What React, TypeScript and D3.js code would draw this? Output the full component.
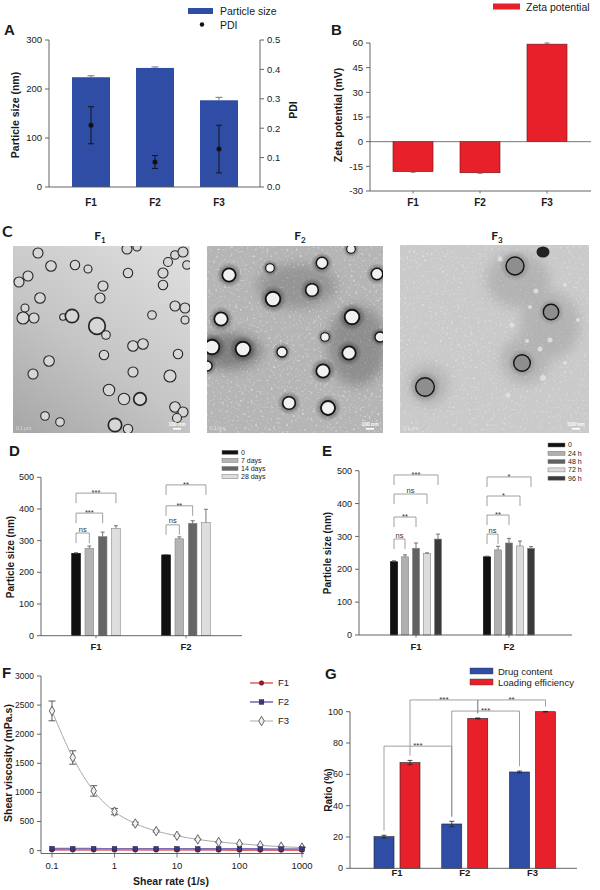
import * as d3 from "d3"

const FONT = "'Liberation Sans', Arial, Helvetica, sans-serif"
const CAL = "Lato, 'Open Sans', sans-serif"
const INK = "#1a1a1a"
const AXIS = "#555"
const BLUE = "#2f4da5"
const RED = "#e8202a"

// A: particle size + PDI
const formulations = ["F1", "F2", "F3"]
const sizeMean = [224, 243, 177]
const sizeErr = [3, 2, 6]
const pdiMean = [0.21, 0.085, 0.129]
const pdiErr = [0.063, 0.022, 0.081]
const sizeTicks = [0, 100, 200, 300]
const pdiTicks = [0, 0.1, 0.2, 0.3, 0.4, 0.5]

// B: zeta potential
const zetaMean = [-18.2, -18.9, 59.3]
const zetaErr = [0.4, 0.3, 0.7]
const zetaTicks = [-30, -15, 0, 15, 30, 45, 60]

// C: TEM micrographs, particles as [x, y, r] in image pixels
const temSubscripts = ["1", "2", "3"]
const temF1 = [
  [25, 7, 5], [38, 20, 5.3], [62, 19, 4.7], [75, 23, 4], [15, 30, 5], [6, 36, 5], [27, 52, 5.3],
  [90, 40, 5], [87, 52, 5], [114, 3, 5], [124, 1, 4], [115, 27, 4.7], [150, 39, 4.7], [150, 27, 5],
  [155, 16, 4.5], [162, 9, 4.3], [170, 6, 5], [174, 19, 4.3], [12, 62, 4], [10, 72, 6], [21, 72, 5],
  [50, 71, 3.3], [59, 70, 6.7], [84, 80, 8.3], [93, 89, 4.3], [139, 69, 4.3], [162, 60, 5], [172, 62, 5],
  [172, 74, 4], [120, 100, 5.3], [130, 98, 5.3], [91, 109, 4.7], [36, 115, 5.3], [165, 108, 4.7],
  [120, 126, 5], [20, 128, 5], [157, 130, 6], [96, 144, 5.7], [111, 153, 5.7], [127, 153, 6.3],
  [162, 161, 5.3], [170, 166, 5], [164, 172, 4.5], [32, 170, 4.3], [47, 176, 4.3], [102, 179, 6.7],
  [115, 183, 4.7],
]
const temF2 = [
  [22, 29, 6.7], [63, 22, 4.3], [115, 17, 5.7], [144, 3, 4.3], [170, 28, 5.7], [66, 53, 7.3],
  [105, 44, 6.3], [14, 73, 6.7], [145, 71, 7.3], [5, 101, 7.3], [36, 103, 7.3], [75, 106, 5],
  [118, 91, 4.3], [173, 91, 5], [142, 107, 6.7], [0, 120, 5], [116, 125, 6.7], [82, 157, 6.3],
  [121, 162, 7],
]
const temF3 = [[115, 21, 9], [151, 67, 7.7], [122, 118, 8.3], [25, 142, 9.3]]
const temF3Vesicles = [
  [100, 14, 2.5], [136, 46, 2.5], [165, 40, 2], [130, 62, 2], [112, 80, 2.5], [150, 95, 2.5],
  [140, 104, 2.5], [127, 96, 2], [165, 118, 2], [143, 133, 3], [178, 75, 2], [108, 150, 2.5],
]

// D: storage stability
const stabilityGroups = ["F1", "F2"]
const storageSeries = ["0", "7 days", "14 days", "28 days"]
const storageColors = ["#111111", "#b4b4b4", "#666666", "#dedede"]
const storageMean = [[260, 276, 313, 339], [255, 306, 355, 357]]
const storageErr = [[2, 7, 14, 8], [1, 6, 8, 42]]
const storageSig = [
  { g: 0, a: 0, b: 1, y: 324, label: "ns" },
  { g: 0, a: 0, b: 2, y: 387, label: "***" },
  { g: 0, a: 0, b: 3, y: 450, label: "***" },
  { g: 1, a: 0, b: 1, y: 350, label: "ns" },
  { g: 1, a: 0, b: 2, y: 410, label: "**" },
  { g: 1, a: 0, b: 3, y: 476, label: "**" },
]

// E: stability in medium
const mediumSeries = ["0", "24 h", "48 h", "72 h", "96 h"]
const mediumColors = ["#111111", "#b0b0b0", "#616161", "#dcdcdc", "#3a3a3a"]
const mediumMean = [[223, 238, 264, 248, 292], [238, 259, 280, 271, 264]]
const mediumErr = [[3, 6, 16, 2, 15], [2, 11, 14, 15, 5]]
const mediumSig = [
  { g: 0, a: 0, b: 1, y: 292, label: "ns" },
  { g: 0, a: 0, b: 2, y: 359, label: "**" },
  { g: 0, a: 0, b: 3, y: 429, label: "ns" },
  { g: 0, a: 0, b: 4, y: 487, label: "***" },
  { g: 1, a: 0, b: 1, y: 307, label: "ns" },
  { g: 1, a: 0, b: 2, y: 365, label: "**" },
  { g: 1, a: 0, b: 3, y: 423, label: "*" },
  { g: 1, a: 0, b: 4, y: 481, label: "*" },
]
const stabilityTicks = [0, 100, 200, 300, 400, 500]

// F: rheology
const shearRate = [0.1, 0.215, 0.464, 1, 2.15, 4.64, 10, 21.5, 46.4, 100, 215, 464, 1000]
const viscF1 = [12, 11, 11, 10, 10, 10, 9, 9, 9, 8, 8, 8, 7]
const viscF2 = [34, 33, 33, 32, 32, 31, 31, 30, 30, 29, 29, 28, 28]
const viscF3 = [2400, 1600, 1025, 670, 465, 335, 255, 192, 148, 118, 90, 68, 52]
const viscF3Err = [170, 115, 90, 55, 22, 15, 10, 8, 6, 5, 4, 3, 3]
const viscTicks = [0, 500, 1000, 1500, 2000, 2500, 3000]
const shearTicks = [0.1, 1, 10, 100, 1000]

// G: drug content / loading efficiency
const loadSeries = ["Drug content", "Loading efficiency"]
const loadColors = [BLUE, RED]
const drugContent = [20.2, 28.3, 61.5]
const drugContentErr = [0.9, 1.7, 0.6]
const loadingEff = [67.5, 95.7, 100]
const loadingEffErr = [1.4, 0.3, 0.2]
const loadSig = [
  { a: [0, 0], b: [1, 0], y: 78, label: "***" },
  { a: [0, 1], b: [1, 1], y: 107.5, label: "***" },
  { a: [1, 0], b: [2, 0], y: 100.4, label: "***" },
  { a: [1, 1], b: [2, 1], y: 107.5, label: "**" },
]
const ratioTicks = [0, 20, 40, 60, 80, 100]

type Lin = d3.ScaleLinear<number, number>

function YAxis({ scale, ticks, x, right = false, fmt = (d: number) => String(d), fs = 9.5 }: {
  scale: Lin; ticks: number[]; x: number; right?: boolean; fmt?: (d: number) => string; fs?: number
}) {
  const [a, b] = scale.range()
  const s = right ? 1 : -1
  return (
    <g>
      <line x1={x} x2={x} y1={a} y2={b} stroke={AXIS} strokeWidth={0.9} />
      {ticks.map((t) => (
        <g key={t}>
          <line x1={x} x2={x + s * 4} y1={scale(t)} y2={scale(t)} stroke={AXIS} strokeWidth={0.9} />
          <text x={x + s * 7} y={scale(t)} dy="0.35em" textAnchor={right ? "start" : "end"} fontSize={fs} fill={INK}>
            {fmt(t)}
          </text>
        </g>
      ))}
    </g>
  )
}

function ErrBar({ x, y1, y2, cap = 6, color = "#333" }: { x: number; y1: number; y2: number; cap?: number; color?: string }) {
  return (
    <path d={`M${x},${y1}V${y2}M${x - cap / 2},${y2}H${x + cap / 2}`} stroke={color} strokeWidth={0.9} fill="none" />
  )
}

function Bracket({ x1, x2, y, b1, b2, label, fs = 7.5 }: { x1: number; x2: number; y: number; b1: number; b2: number; label: string; fs?: number }) {
  const star = label.includes("*")
  return (
    <g>
      <path d={`M${x1},${b1}V${y}H${x2}V${b2}`} fill="none" stroke="#888" strokeWidth={0.8} />
      <text x={(x1 + x2) / 2} y={star ? y + 2 : y - 1.5} textAnchor="middle" fontSize={fs} fill="#333">{label}</text>
    </g>
  )
}

function VTitle({ x, y, text, fs = 10.5 }: { x: number; y: number; text: string; fs?: number }) {
  return (
    <text transform={`translate(${x},${y}) rotate(-90)`} textAnchor="middle" fontWeight="bold" fontSize={fs} fill={INK}>
      {text}
    </text>
  )
}

function PanelA() {
  const x = d3.scalePoint<string>().domain(formulations).range([91, 219])
  const y = d3.scaleLinear().domain([0, 300]).range([187, 40])
  const yR = d3.scaleLinear().domain([0, 0.5]).range([187, 40])
  const bw = 38
  return (
    <g>
      <text x={4} y={35} fontSize={15} fontWeight="bold" fill={INK}>A</text>
      <rect x={188} y={8} width={25} height={6} fill={BLUE} />
      <text x={220} y={15} fontSize={10.5} fill={INK}>Particle size</text>
      <circle cx={202} cy={24.5} r={2.2} fill="#111" />
      <text x={220} y={28.5} fontSize={10.5} fill={INK}>PDI</text>
      {formulations.map((f, i) => (
        <g key={f}>
          <rect x={x(f)! - bw / 2} y={y(sizeMean[i])} width={bw} height={y(0) - y(sizeMean[i])} fill={BLUE} />
          <ErrBar x={x(f)!} y1={y(sizeMean[i])} y2={y(sizeMean[i] + sizeErr[i])} cap={7} color="#667" />
        </g>
      ))}
      {formulations.map((f, i) => (
        <g key={f + "p"}>
          <path
            d={`M${x(f)},${yR(pdiMean[i] - pdiErr[i])}V${yR(pdiMean[i] + pdiErr[i])}M${x(f)! - 3},${yR(pdiMean[i] - pdiErr[i])}h6M${x(f)! - 3},${yR(pdiMean[i] + pdiErr[i])}h6`}
            stroke="#111" strokeWidth={0.9} fill="none"
          />
          <circle cx={x(f)} cy={yR(pdiMean[i])} r={2.5} fill="#111" />
        </g>
      ))}
      <line x1={49} x2={260} y1={187} y2={187} stroke={AXIS} strokeWidth={0.9} />
      <YAxis scale={y} ticks={sizeTicks} x={49} />
      <YAxis scale={yR} ticks={pdiTicks} x={260} right fmt={d3.format(".1f")} />
      {formulations.map((f) => (
        <text key={f} x={x(f)} y={206} textAnchor="middle" fontWeight="bold" fontSize={10} fill={INK}>{f}</text>
      ))}
      <VTitle x={19} y={115} text="Particle size (nm)" />
      <VTitle x={297} y={110} text="PDI" />
    </g>
  )
}

function PanelB() {
  const x = d3.scalePoint<string>().domain(formulations).range([413, 547])
  const y = d3.scaleLinear().domain([-30, 60]).range([191, 43])
  const bw = 40
  return (
    <g>
      <text x={331} y={35} fontSize={15} fontWeight="bold" fill={INK}>B</text>
      <rect x={493} y={3.5} width={27} height={6} fill={RED} />
      <text x={526} y={11} fontSize={10.5} fill={INK}>Zeta potential</text>
      {formulations.map((f, i) => {
        const v = zetaMean[i]
        const top = Math.min(y(v), y(0))
        const end = v + Math.sign(v) * zetaErr[i]
        return (
          <g key={f}>
            <rect x={x(f)! - bw / 2} y={top} width={bw} height={Math.abs(y(v) - y(0))} fill={RED} stroke="#6a1010" strokeWidth={0.6} />
            <ErrBar x={x(f)!} y1={y(v)} y2={y(end)} cap={5} color="#666" />
          </g>
        )
      })}
      <line x1={370} x2={591} y1={y(0)} y2={y(0)} stroke={AXIS} strokeWidth={0.8} />
      <line x1={370} x2={591} y1={y(-30)} y2={y(-30)} stroke={AXIS} strokeWidth={0.9} />
      {formulations.map((f) => (
        <line key={f} x1={x(f)} x2={x(f)} y1={y(-30)} y2={y(-30) + 2.5} stroke={AXIS} strokeWidth={0.8} />
      ))}
      <YAxis scale={y} ticks={zetaTicks} x={370} />
      {formulations.map((f) => (
        <text key={f} x={x(f)} y={206} textAnchor="middle" fontWeight="bold" fontSize={10} fill={INK}>{f}</text>
      ))}
      <VTitle x={342} y={115} text="Zeta potential (mV)" />
    </g>
  )
}

function ScaleBar({ x0, y0, w, h }: { x0: number; y0: number; w: number; h: number }) {
  return (
    <g fontFamily={FONT}>
      <text x={x0 + w - 13} y={y0 + h - 7} textAnchor="middle" fontSize={5} fontWeight="bold" fill="#fff">100 nm</text>
      <rect x={x0 + w - 17} y={y0 + h - 5} width={8} height={1.6} fill="#fff" />
      <text x={x0 + 3} y={y0 + h - 3} fontSize={5} fill="#fff" opacity={0.55}>0.1 µm</text>
    </g>
  )
}

function PanelC() {
  const boxes = [
    { x: 13, y: 246, w: 177, h: 187 },
    { x: 207, y: 246, w: 176, h: 187 },
    { x: 400, y: 245, w: 189, h: 188 },
  ]
  const sx = boxes.map((b) => d3.scaleLinear().domain([0, b.w]).range([b.x, b.x + b.w]))
  const sy = boxes.map((b) => d3.scaleLinear().domain([0, b.h]).range([b.y, b.y + b.h]))
  const titleX = [100, 300, 497]
  return (
    <g>
      <defs>
        {boxes.map((b, i) => (
          <clipPath id={`tem${i}`} key={i}>
            <rect x={b.x} y={b.y} width={b.w} height={b.h} />
          </clipPath>
        ))}
      </defs>
      <text x={2} y={237} fontFamily={CAL} fontWeight="bold" fontSize={16} fill={INK}>C</text>
      {temSubscripts.map((s, i) => (
        <text key={s} x={titleX[i]} y={240} textAnchor="middle" fontFamily={CAL} fontWeight="bold" fontSize={12} fill={INK}>
          F<tspan fontSize={8} dy={3}>{s}</tspan>
        </text>
      ))}

      {/* F1 */}
      <g clipPath="url(#tem0)">
        <rect x={boxes[0].x} y={boxes[0].y} width={boxes[0].w} height={boxes[0].h} fill="url(#f1bg)" />
        {temF1.map(([cx, cy, r], k) => (
          <circle key={k} cx={sx[0](cx)} cy={sy[0](cy)} r={r} fill={r < 2 ? "#555" : "#d6d6d6"} stroke="#262626" strokeWidth={r > 6 ? 1.7 : 1.1} />
        ))}
        <ScaleBar x0={boxes[0].x} y0={boxes[0].y} w={boxes[0].w} h={boxes[0].h} />
      </g>

      {/* F2 */}
      <g clipPath="url(#tem1)">
        <rect x={boxes[1].x} y={boxes[1].y} width={boxes[1].w} height={boxes[1].h} fill="#b5b5b5" />
        <rect x={boxes[1].x} y={boxes[1].y} width={boxes[1].w} height={boxes[1].h} fill="#fff" filter="url(#speckle)" opacity={0.45} />
        <g filter="url(#blur6)" opacity={0.4}>
          <ellipse cx={sx[1](20)} cy={sy[1](105)} rx={35} ry={18} fill="#333" />
          <ellipse cx={sx[1](150)} cy={sy[1](100)} rx={30} ry={40} fill="#555" />
          <ellipse cx={sx[1](90)} cy={sy[1](40)} rx={40} ry={22} fill="#666" />
        </g>
        {temF2.map(([cx, cy, r], k) => (
          <circle key={"h" + k} cx={sx[1](cx)} cy={sy[1](cy)} r={r * 1.9} fill="url(#halo)" opacity={0.6} />
        ))}
        {temF2.map(([cx, cy, r], k) => (
          <circle key={k} cx={sx[1](cx)} cy={sy[1](cy)} r={r} fill="#f1f1f1" stroke="#141414" strokeWidth={r * 0.26} />
        ))}
        <ScaleBar x0={boxes[1].x} y0={boxes[1].y} w={boxes[1].w} h={boxes[1].h} />
      </g>

      {/* F3 */}
      <g clipPath="url(#tem2)">
        <rect x={boxes[2].x} y={boxes[2].y} width={boxes[2].w} height={boxes[2].h} fill="#cacaca" />
        <rect x={boxes[2].x} y={boxes[2].y} width={boxes[2].w} height={boxes[2].h} fill="#fff" filter="url(#speckle)" opacity={0.35} />
        <g filter="url(#blur6)" opacity={0.35}>
          <ellipse cx={sx[2](118)} cy={sy[2](35)} rx={32} ry={28} fill="#8a8a8a" />
          <ellipse cx={sx[2](150)} cy={sy[2](80)} rx={30} ry={34} fill="#8a8a8a" />
          <ellipse cx={sx[2](125)} cy={sy[2](115)} rx={24} ry={24} fill="#8a8a8a" />
          <ellipse cx={sx[2](28)} cy={sy[2](140)} rx={20} ry={20} fill="#8a8a8a" />
        </g>
        {temF3Vesicles.map(([cx, cy, r], k) => (
          <circle key={"v" + k} cx={sx[2](cx)} cy={sy[2](cy)} r={r} fill="#e4e4e4" opacity={0.8} />
        ))}
        {temF3.map(([cx, cy, r], k) => (
          <circle key={"h" + k} cx={sx[2](cx)} cy={sy[2](cy)} r={r * 1.7} fill="url(#halo)" opacity={0.35} />
        ))}
        {temF3.map(([cx, cy, r], k) => (
          <circle key={k} cx={sx[2](cx)} cy={sy[2](cy)} r={r} fill="#8e8e8e" stroke="#141414" strokeWidth={1.4} />
        ))}
        <ellipse cx={sx[2](143)} cy={sy[2](7)} rx={6.5} ry={5.5} fill="#222" />
        <ScaleBar x0={boxes[2].x} y0={boxes[2].y} w={boxes[2].w} h={boxes[2].h} />
      </g>
    </g>
  )
}

type Sig = { g: number; a: number; b: number; y: number; label: string }

function StabilityPanel(p: {
  letter: string; letterX: number
  axisX: number; axisEnd: number; top: number; bottom: number
  centers: [number, number]; half: number
  series: string[]; colors: string[]; means: number[][]; errs: number[][]; sig: Sig[]
  legendX: number; legendY: number; legendStep: number; legendW: number; titleX: number; titleY: number
}) {
  const y = d3.scaleLinear().domain([0, 500]).range([p.bottom, p.top])
  const gx = d3.scalePoint<string>().domain(stabilityGroups).range(p.centers)
  const inner = d3.scaleBand<number>().domain(d3.range(p.series.length)).range([-p.half, p.half]).paddingInner(0.35).paddingOuter(0.175)
  const bw = inner.bandwidth()
  const cx = (g: number, i: number) => gx(stabilityGroups[g])! + inner(i)! + bw / 2
  return (
    <g>
      <text x={p.letterX} y={456} fontSize={15} fontWeight="bold" fill={INK}>{p.letter}</text>
      {p.series.map((s, i) => (
        <g key={s}>
          <rect x={p.legendX} y={p.legendY + i * p.legendStep - 2} width={p.legendW} height={4} fill={p.colors[i]} stroke="#777" strokeWidth={0.5} />
          <text x={p.legendX + p.legendW + 3} y={p.legendY + i * p.legendStep} dy="0.35em" fontSize={7} fill={INK}>{s}</text>
        </g>
      ))}
      {stabilityGroups.map((g, gi) =>
        p.series.map((s, i) => {
          const v = p.means[gi][i]
          return (
            <g key={g + s}>
              <rect x={cx(gi, i) - bw / 2} y={y(v)} width={bw} height={y(0) - y(v)} fill={p.colors[i]} stroke={i === 0 ? "#000" : "#888"} strokeWidth={0.6} />
              <ErrBar x={cx(gi, i)} y1={y(v)} y2={y(v + p.errs[gi][i])} cap={4} color="#666" />
            </g>
          )
        })
      )}
      {p.sig.map((s, k) => (
        <Bracket key={k} x1={cx(s.g, s.a)} x2={cx(s.g, s.b)} y={y(s.y)} b1={y(s.y) + 10} b2={y(s.y) + 10} label={s.label} />
      ))}
      <line x1={p.axisX} x2={p.axisEnd} y1={y(0)} y2={y(0)} stroke={AXIS} strokeWidth={0.9} />
      {stabilityGroups.map((g) => (
        <line key={g} x1={gx(g)} x2={gx(g)} y1={y(0)} y2={y(0) + 2.5} stroke={AXIS} strokeWidth={0.8} />
      ))}
      <YAxis scale={y} ticks={stabilityTicks} x={p.axisX} fs={9} />
      {stabilityGroups.map((g) => (
        <text key={g} x={gx(g)} y={y(0) + 14.5} textAnchor="middle" fontWeight="bold" fontSize={9.5} fill={INK}>{g}</text>
      ))}
      <VTitle x={p.titleX} y={p.titleY} text="Particle size (nm)" fs={10} />
    </g>
  )
}

function PanelF() {
  const x = d3.scaleLog().domain([0.1, 1000]).range([52, 302])
  const y = d3.scaleLinear().domain([-50, 3000]).range([853.5, 676])
  const line = d3.line<number>().x((_, i) => x(shearRate[i])).y((d) => y(d)).curve(d3.curveMonotoneX)
  const diamond = d3.symbol(d3.symbolDiamond, 26)()!
  const legend = [
    { name: "F1", stroke: "#e06a6a" },
    { name: "F2", stroke: "#7a6fb5" },
    { name: "F3", stroke: "#aaaaaa" },
  ]
  const marker = (k: number) =>
    k === 0 ? <circle r={2.3} fill="#9b1c1c" stroke="#5a0a0a" strokeWidth={0.5} />
      : k === 1 ? <rect x={-2.3} y={-2.3} width={4.6} height={4.6} fill="#3d3775" stroke="#221d50" strokeWidth={0.5} />
        : <path d={diamond} fill="#f2f2f2" stroke="#555" strokeWidth={0.9} />
  return (
    <g>
      <text x={2} y={678} fontSize={15} fontWeight="bold" fill={INK}>F</text>
      {viscF3.map((v, i) => (
        <path key={i}
          d={`M${x(shearRate[i])},${y(v - viscF3Err[i])}V${y(v + viscF3Err[i])}M${x(shearRate[i]) - 3.5},${y(v - viscF3Err[i])}h7M${x(shearRate[i]) - 3.5},${y(v + viscF3Err[i])}h7`}
          stroke="#333" strokeWidth={0.8} fill="none" />
      ))}
      <path d={line(viscF3)!} fill="none" stroke="#aaa" strokeWidth={1} />
      {viscF3.map((v, i) => (
        <g key={i} transform={`translate(${x(shearRate[i])},${y(v)})`}>{marker(2)}</g>
      ))}
      <path d={line(viscF1)!} fill="none" stroke="#e06a6a" strokeWidth={1.6} />
      <path d={line(viscF2)!} fill="none" stroke="#7a6fb5" strokeWidth={1.6} />
      {viscF1.map((v, i) => (
        <g key={"a" + i} transform={`translate(${x(shearRate[i])},${y(v)})`}>{marker(0)}</g>
      ))}
      {viscF2.map((v, i) => (
        <g key={"b" + i} transform={`translate(${x(shearRate[i])},${y(v)})`}>{marker(1)}</g>
      ))}
      <line x1={41} x2={304} y1={y(-50)} y2={y(-50)} stroke={AXIS} strokeWidth={0.9} />
      {shearTicks.map((t) => (
        <g key={t}>
          <line x1={x(t)} x2={x(t)} y1={y(-50)} y2={y(-50) + 4} stroke={AXIS} strokeWidth={0.8} />
          <text x={x(t)} y={869} textAnchor="middle" fontSize={9.5} fill={INK}>{String(t)}</text>
        </g>
      ))}
      <YAxis scale={y} ticks={viscTicks} x={41} fs={8.5} />
      {legend.map((l, k) => (
        <g key={l.name} transform={`translate(0,${683 + k * 19})`}>
          <line x1={250} x2={273} y1={0} y2={0} stroke={l.stroke} strokeWidth={k === 2 ? 1 : 1.6} />
          <g transform="translate(261.5,0)">{marker(k)}</g>
          <text x={278} y={0} dy="0.35em" fontSize={9.5} fill={INK}>{l.name}</text>
        </g>
      ))}
      <VTitle x={12} y={763} text="Shear viscosity (mPa.s)" />
      <text x={171} y={885} textAnchor="middle" fontWeight="bold" fontSize={10.5} fill={INK}>Shear rate (1/s)</text>
    </g>
  )
}

function PanelG() {
  const y = d3.scaleLinear().domain([0, 100]).range([868.3, 711.7])
  const gx = d3.scalePoint<string>().domain(formulations).range([397, 532.5])
  const inner = d3.scaleBand<number>().domain([0, 1]).range([-23, 23]).paddingInner(0.23)
  const bw = inner.bandwidth()
  const means = [drugContent, loadingEff]
  const errs = [drugContentErr, loadingEffErr]
  const cx = (c: number, s: number) => gx(formulations[c])! + inner(s)! + bw / 2
  const topOf = (c: number, s: number) => means[s][c] + errs[s][c]
  return (
    <g>
      <text x={325} y={679} fontSize={15} fontWeight="bold" fill={INK}>G</text>
      {loadSeries.map((s, i) => (
        <g key={s}>
          <rect x={470} y={668 + i * 11} width={23} height={6} fill={loadColors[i]} stroke="#333" strokeWidth={0.4} />
          <text x={498} y={674.5 + i * 11} fontSize={9.5} fill={INK}>{s}</text>
        </g>
      ))}
      {formulations.map((f, c) =>
        loadSeries.map((s, si) => {
          const v = means[si][c]
          const e = errs[si][c]
          return (
            <g key={f + s}>
              <rect x={cx(c, si) - bw / 2} y={y(v)} width={bw} height={y(0) - y(v)} fill={loadColors[si]} stroke="#222" strokeWidth={0.6} />
              <path d={`M${cx(c, si)},${y(v - e)}V${y(v + e)}M${cx(c, si) - 2.5},${y(v - e)}h5M${cx(c, si) - 2.5},${y(v + e)}h5`} stroke="#222" strokeWidth={0.8} fill="none" />
            </g>
          )
        })
      )}
      {loadSig.map((s, k) => (
        <Bracket key={k} x1={cx(s.a[0], s.a[1])} x2={cx(s.b[0], s.b[1])} y={y(s.y)}
          b1={y(topOf(s.a[0], s.a[1]) + 3)} b2={y(topOf(s.b[0], s.b[1]) + 3)} label={s.label} fs={8} />
      ))}
      <line x1={350} x2={577} y1={y(0)} y2={y(0)} stroke={AXIS} strokeWidth={0.9} />
      <YAxis scale={y} ticks={ratioTicks} x={350} fs={9} />
      {formulations.map((f) => (
        <text key={f} x={gx(f)} y={876} textAnchor="middle" fontWeight="bold" fontSize={9.5} fill={INK}>{f}</text>
      ))}
      <VTitle x={332} y={790} text="Ratio (%)" fs={10} />
    </g>
  )
}

export default function App() {
  return (
    <svg width={600} height={890} viewBox="0 0 600 890" fontFamily={FONT}
      style={{ position: "absolute", left: 0, top: 0, background: "#fff" }}>
      <defs>
        <linearGradient id="f1bg" x1="0.8" y1="0" x2="0.1" y2="1">
          <stop offset="0" stopColor="#dcdcdc" />
          <stop offset="0.55" stopColor="#c5c5c5" />
          <stop offset="1" stopColor="#a9a9a9" />
        </linearGradient>
        <radialGradient id="halo">
          <stop offset="0.4" stopColor="#000" stopOpacity="0.9" />
          <stop offset="0.6" stopColor="#000" stopOpacity="0.45" />
          <stop offset="1" stopColor="#000" stopOpacity="0" />
        </radialGradient>
        <filter id="speckle" x="0" y="0" width="1" height="1">
          <feTurbulence type="fractalNoise" baseFrequency="0.45" numOctaves="1" seed="7" />
          <feColorMatrix type="matrix" values="0 0 0 0 1  0 0 0 0 1  0 0 0 0 1  5 0 0 0 -2.9" />
        </filter>
        <filter id="blur6" x="-50%" y="-50%" width="200%" height="200%">
          <feGaussianBlur stdDeviation="6" />
        </filter>
      </defs>
      <PanelA />
      <PanelB />
      <PanelC />
      <StabilityPanel letter="D" letterX={9} axisX={41} axisEnd={242} top={477.3} bottom={635.7}
        centers={[96, 186]} half={26.6} series={storageSeries} colors={storageColors}
        means={storageMean} errs={storageErr} sig={storageSig}
        legendX={222} legendY={452.3} legendStep={8.1} legendW={16} titleX={14} titleY={557} />
      <StabilityPanel letter="E" letterX={322} axisX={359} axisEnd={572} top={470.7} bottom={635}
        centers={[416, 509]} half={27.5} series={mediumSeries} colors={mediumColors}
        means={mediumMean} errs={mediumErr} sig={mediumSig}
        legendX={548} legendY={445} legendStep={8.3} legendW={17} titleX={331} titleY={553} />
      <PanelF />
      <PanelG />
    </svg>
  )
}
